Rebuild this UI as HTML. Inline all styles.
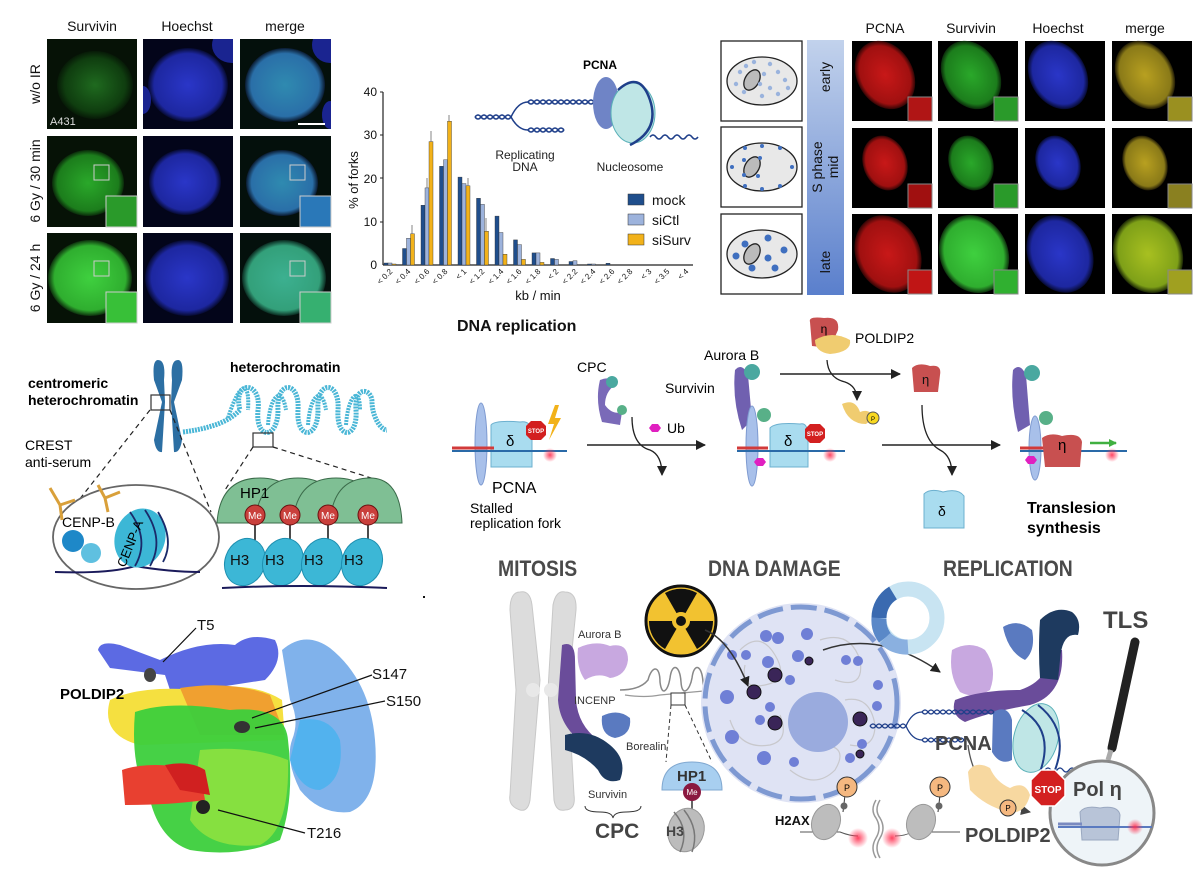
<!DOCTYPE html>
<html><head><meta charset="utf-8"><style>
html,body{margin:0;padding:0;background:#fff;}
svg{display:block;font-family:"Liberation Sans",Arial,sans-serif;}
</style></head><body>
<svg width="1200" height="871" viewBox="0 0 1200 871" xmlns="http://www.w3.org/2000/svg">
<defs>
<radialGradient id="gGd" cx="50%" cy="50%" r="50%"><stop offset="0" stop-color="#1f6a1f"/><stop offset=".8" stop-color="#0f3d0f"/><stop offset="1" stop-color="#071a07"/></radialGradient>
<radialGradient id="gG" cx="50%" cy="50%" r="50%"><stop offset="0" stop-color="#2aa82a"/><stop offset=".85" stop-color="#1c7d1c"/><stop offset="1" stop-color="#0a2a0a"/></radialGradient>
<radialGradient id="gGb" cx="50%" cy="50%" r="50%"><stop offset="0" stop-color="#3fd03f"/><stop offset=".85" stop-color="#2fae2f"/><stop offset="1" stop-color="#0d300d"/></radialGradient>
<radialGradient id="gB" cx="50%" cy="50%" r="50%"><stop offset="0" stop-color="#2a36c8"/><stop offset=".85" stop-color="#1d27a0"/><stop offset="1" stop-color="#060a30"/></radialGradient>
<radialGradient id="gBG" cx="50%" cy="50%" r="50%"><stop offset="0" stop-color="#2f8ab0"/><stop offset=".85" stop-color="#2a6fa8"/><stop offset="1" stop-color="#0a1a30"/></radialGradient>
<radialGradient id="gBG2" cx="50%" cy="50%" r="50%"><stop offset="0" stop-color="#3cb090"/><stop offset=".85" stop-color="#33a07a"/><stop offset="1" stop-color="#0a2a20"/></radialGradient>
<radialGradient id="gR" cx="50%" cy="50%" r="50%"><stop offset="0" stop-color="#c81818"/><stop offset=".85" stop-color="#a01010"/><stop offset="1" stop-color="#300505"/></radialGradient>
<radialGradient id="gM" cx="50%" cy="50%" r="50%"><stop offset="0" stop-color="#b8a020"/><stop offset=".85" stop-color="#8a7a18"/><stop offset="1" stop-color="#201a05"/></radialGradient>
<radialGradient id="gMy" cx="50%" cy="50%" r="50%"><stop offset="0" stop-color="#a8c020"/><stop offset=".85" stop-color="#7ea018"/><stop offset="1" stop-color="#1a2505"/></radialGradient>
<radialGradient id="glow" cx="50%" cy="50%" r="50%"><stop offset="0" stop-color="#ff3050" stop-opacity=".9"/><stop offset="1" stop-color="#ff3050" stop-opacity="0"/></radialGradient>
<linearGradient id="bar" x1="0" y1="0" x2="0" y2="1"><stop offset="0" stop-color="#c2d2ec"/><stop offset="1" stop-color="#5a7fcc"/></linearGradient>
<marker id="ah" markerUnits="userSpaceOnUse" markerWidth="10" markerHeight="10" refX="9" refY="5" orient="auto"><path d="M0,0 L10,5 L0,10 z" fill="#222"/></marker>
<marker id="ahg" markerUnits="userSpaceOnUse" markerWidth="10" markerHeight="10" refX="9" refY="5" orient="auto"><path d="M0,0 L10,5 L0,10 z" fill="#444"/></marker>
<marker id="ahgr" markerUnits="userSpaceOnUse" markerWidth="8" markerHeight="8" refX="7" refY="4" orient="auto"><path d="M0,0 L8,4 L0,8 z" fill="#40b040"/></marker>
<clipPath id="c1"><rect x="143" y="39" width="90" height="90"/></clipPath>
<clipPath id="c2"><rect x="240" y="39" width="91" height="90"/></clipPath>
</defs>

<!-- ============ TOP LEFT MICROSCOPY ============ -->
<g font-size="14" fill="#111" text-anchor="middle">
<text x="92" y="31">Survivin</text><text x="187" y="31">Hoechst</text><text x="285" y="31">merge</text>
<text transform="translate(40,84) rotate(-90)">w/o IR</text>
<text transform="translate(40,181) rotate(-90)">6 Gy / 30 min</text>
<text transform="translate(40,278) rotate(-90)">6 Gy / 24 h</text>
</g>
<g>
<rect x="47" y="39" width="90" height="90" fill="#061206"/>
<ellipse cx="95" cy="85" rx="38" ry="34" fill="url(#gGd)"/>
<text x="50" y="125" font-size="11" fill="#ddd">A431</text>
<rect x="143" y="39" width="90" height="90" fill="#03051a"/>
<g clip-path="url(#c1)">
<ellipse cx="188" cy="85" rx="40" ry="37" fill="url(#gB)"/>
<ellipse cx="232" cy="45" rx="20" ry="18" fill="#1a2490"/>
<ellipse cx="143" cy="100" rx="8" ry="14" fill="#1a2490"/>
</g>
<rect x="240" y="39" width="91" height="90" fill="#04100c"/>
<g clip-path="url(#c2)">
<ellipse cx="285" cy="85" rx="40" ry="37" fill="url(#gBG)"/>
<ellipse cx="330" cy="45" rx="18" ry="18" fill="#1a2490"/>
<ellipse cx="330" cy="115" rx="8" ry="14" fill="#1a2490"/>
</g>
<line x1="298" y1="124" x2="325" y2="124" stroke="#fff" stroke-width="2"/>

<rect x="47" y="136" width="90" height="91" fill="#061206"/>
<ellipse cx="88" cy="183" rx="36" ry="33" fill="url(#gG)"/>
<rect x="94" y="165" width="15" height="15" fill="none" stroke="#ccc"/>
<rect x="106" y="196" width="31" height="31" fill="#2a9a2a" stroke="#ccc"/>
<rect x="143" y="136" width="90" height="91" fill="#03051a"/>
<ellipse cx="185" cy="182" rx="36" ry="33" fill="url(#gB)"/>
<rect x="240" y="136" width="91" height="91" fill="#04100c"/>
<ellipse cx="282" cy="183" rx="36" ry="33" fill="url(#gBG)"/>
<rect x="290" y="165" width="15" height="15" fill="none" stroke="#ccc"/>
<rect x="300" y="196" width="31" height="31" fill="#2a78b8" stroke="#ccc"/>

<rect x="47" y="233" width="90" height="90" fill="#061206"/>
<ellipse cx="90" cy="278" rx="42" ry="38" fill="url(#gGb)"/>
<rect x="94" y="261" width="15" height="15" fill="none" stroke="#ccc"/>
<rect x="106" y="292" width="31" height="31" fill="#38c038" stroke="#ccc"/>
<rect x="143" y="233" width="90" height="90" fill="#03051a"/>
<ellipse cx="187" cy="278" rx="42" ry="38" fill="url(#gB)"/>
<rect x="240" y="233" width="91" height="90" fill="#04100c"/>
<ellipse cx="284" cy="278" rx="42" ry="38" fill="url(#gBG2)"/>
<rect x="290" y="261" width="15" height="15" fill="none" stroke="#ccc"/>
<rect x="300" y="292" width="31" height="31" fill="#36b070" stroke="#ccc"/>
</g>

<!-- ============ BAR CHART ============ -->
<g font-size="12" fill="#111">
<line x1="383" y1="92" x2="383" y2="265" stroke="#222" stroke-width="1.2"/>
<line x1="383" y1="265" x2="693" y2="265" stroke="#222" stroke-width="1.2"/>
<g text-anchor="end"><text x="377" y="96">40</text><text x="377" y="139">30</text><text x="377" y="183">20</text><text x="377" y="226">10</text><text x="377" y="269">0</text></g>
<g stroke="#222"><line x1="380" y1="92" x2="383" y2="92"/><line x1="380" y1="135" x2="383" y2="135"/><line x1="380" y1="178" x2="383" y2="178"/><line x1="380" y1="222" x2="383" y2="222"/></g>
<text transform="translate(358,180) rotate(-90)" text-anchor="middle" font-size="13">% of forks</text>
<text x="538" y="300" text-anchor="middle" font-size="13">kb / min</text>
<g font-size="8" text-anchor="end">
<text transform="translate(393,272) rotate(-45)">&lt; 0.2</text>
<text transform="translate(411,272) rotate(-45)">&lt; 0.4</text>
<text transform="translate(430,272) rotate(-45)">&lt; 0.6</text>
<text transform="translate(448,272) rotate(-45)">&lt; 0.8</text>
<text transform="translate(467,272) rotate(-45)">&lt; 1</text>
<text transform="translate(485,272) rotate(-45)">&lt; 1.2</text>
<text transform="translate(504,272) rotate(-45)">&lt; 1.4</text>
<text transform="translate(522,272) rotate(-45)">&lt; 1.6</text>
<text transform="translate(541,272) rotate(-45)">&lt; 1.8</text>
<text transform="translate(559,272) rotate(-45)">&lt; 2</text>
<text transform="translate(578,272) rotate(-45)">&lt; 2.2</text>
<text transform="translate(596,272) rotate(-45)">&lt; 2.4</text>
<text transform="translate(615,272) rotate(-45)">&lt; 2.6</text>
<text transform="translate(633,272) rotate(-45)">&lt; 2.8</text>
<text transform="translate(652,272) rotate(-45)">&lt; 3</text>
<text transform="translate(670,272) rotate(-45)">&lt; 3.5</text>
<text transform="translate(689,272) rotate(-45)">&lt; 4</text>
</g>
</g>
<g stroke="#333" stroke-width=".4">
<g fill="#1f4e8c">
<rect x="384" y="263" width="4" height="2"/><rect x="402.5" y="248.5" width="4" height="16.5"/><rect x="421" y="205.2" width="4" height="59.8"/><rect x="439.5" y="166.3" width="4" height="98.7"/><rect x="458" y="177.1" width="4" height="87.9"/><rect x="476.5" y="198.3" width="4" height="66.7"/><rect x="495" y="216.1" width="4" height="48.9"/><rect x="513.5" y="239.9" width="4" height="25.1"/><rect x="532" y="252.9" width="4" height="12.1"/><rect x="550.5" y="258.5" width="4" height="6.5"/><rect x="569" y="261.5" width="4" height="3.5"/><rect x="587.5" y="264" width="4" height="1"/><rect x="606" y="263.3" width="4" height="1.7"/>
</g>
<g fill="#9db3dc">
<rect x="388" y="263" width="4" height="2"/><rect x="406.5" y="238.2" width="4" height="26.8"/><rect x="425" y="187.9" width="4" height="77.1"/><rect x="443.5" y="159.8" width="4" height="105.2"/><rect x="462" y="183.6" width="4" height="81.4"/><rect x="480.5" y="204.4" width="4" height="60.6"/><rect x="499" y="232.5" width="4" height="32.5"/><rect x="517.5" y="244.6" width="4" height="20.4"/><rect x="536" y="252.9" width="4" height="12.1"/><rect x="554.5" y="259.4" width="4" height="5.6"/><rect x="573" y="260.7" width="4" height="4.3"/><rect x="591.5" y="264" width="4" height="1"/>
</g>
<g fill="#f2b21a">
<rect x="392" y="264" width="4" height="1"/><rect x="410.5" y="233.8" width="4" height="31.2"/><rect x="429" y="141.6" width="4" height="123.4"/><rect x="447.5" y="121.2" width="4" height="143.8"/><rect x="466" y="185.8" width="4" height="79.2"/><rect x="484.5" y="231.2" width="4" height="33.8"/><rect x="503" y="254.2" width="4" height="10.8"/><rect x="521.5" y="259.4" width="4" height="5.6"/><rect x="540" y="262.4" width="4" height="2.6"/>
</g>
</g>
<g stroke="#666" stroke-width=".8">
<line x1="412" y1="234" x2="412" y2="225"/><line x1="431" y1="142" x2="431" y2="131"/><line x1="449" y1="121" x2="449" y2="115"/><line x1="427" y1="188" x2="427" y2="178"/><line x1="468" y1="186" x2="468" y2="178"/><line x1="486" y1="231" x2="486" y2="218"/>
</g>
<g font-size="14" fill="#111">
<rect x="628" y="194" width="16" height="11" fill="#1f4e8c" stroke="#333" stroke-width=".5"/><text x="652" y="205">mock</text>
<rect x="628" y="214" width="16" height="11" fill="#9db3dc" stroke="#333" stroke-width=".5"/><text x="652" y="225">siCtl</text>
<rect x="628" y="234" width="16" height="11" fill="#f2b21a" stroke="#333" stroke-width=".5"/><text x="652" y="245">siSurv</text>
</g>

<!-- PCNA diagram -->
<g>
<text x="600" y="69" font-size="12" font-weight="bold" text-anchor="middle">PCNA</text>
<g stroke="#1f3f8a" stroke-width="1.5" fill="none">
<path d="M475,117 q3,-4 6,0 t6,0 t6,0 t6,0 t6,0 t6,0"/><path d="M475,117 q3,4 6,0 t6,0 t6,0 t6,0 t6,0 t6,0"/>
<path d="M511,117 Q518,102 528,102"/>
<path d="M511,117 Q518,130 528,130"/>
<path d="M528,102 q3,-4 6,0 t6,0 t6,0 t6,0 t6,0 t6,0 t6,0 t6,0 t6,0 t6,0 t6,0"/><path d="M528,102 q3,4 6,0 t6,0 t6,0 t6,0 t6,0 t6,0 t6,0 t6,0 t6,0 t6,0 t6,0"/>
<path d="M528,130 q3,-4 6,0 t6,0 t6,0 t6,0 t6,0 t6,0"/><path d="M528,130 q3,4 6,0 t6,0 t6,0 t6,0 t6,0 t6,0"/>
</g>
<ellipse cx="606" cy="103" rx="13" ry="26" fill="#6f84c6"/>
<ellipse cx="633" cy="113" rx="22" ry="30" fill="#bfe6e6" stroke="#5ab0b8"/>
<path d="M618,90 Q640,70 650,100 Q660,130 630,145" stroke="#1f3f8a" stroke-width="2.5" fill="none"/>
<path d="M650,137 q3,-4 6,0 t6,0 t6,0 t6,0 t6,0 t6,0 t6,0 t6,0" stroke="#1f3f8a" stroke-width="1.5" fill="none"/>
<g font-size="12" fill="#222" text-anchor="middle"><text x="525" y="159">Replicating</text><text x="525" y="171">DNA</text><text x="630" y="171">Nucleosome</text></g>
</g>

<!-- ============ TOP RIGHT ============ -->
<g stroke="#222" stroke-width="1.3" fill="#fff">
<rect x="721" y="41" width="81" height="80"/><rect x="721" y="127" width="81" height="80"/><rect x="721" y="214" width="81" height="80"/>
</g>
<g stroke="#222" stroke-width="1.3" fill="#e8e8e8">
<ellipse cx="762" cy="81" rx="35" ry="24"/><ellipse cx="762" cy="167" rx="35" ry="24"/><ellipse cx="762" cy="254" rx="35" ry="24"/>
<ellipse cx="752" cy="80" rx="7" ry="11" fill="#bbb" transform="rotate(30 752 80)"/><ellipse cx="752" cy="167" rx="7" ry="11" fill="#bbb" transform="rotate(30 752 167)"/><ellipse cx="752" cy="254" rx="7" ry="11" fill="#bbb" transform="rotate(30 752 254)"/>
</g>
<g fill="#9ab3dd">
<circle cx="740" cy="72" r="2.2"/><circle cx="746" cy="66" r="2.2"/><circle cx="770" cy="64" r="2.2"/><circle cx="778" cy="72" r="2.2"/><circle cx="785" cy="80" r="2.2"/><circle cx="770" cy="88" r="2.2"/><circle cx="778" cy="94" r="2.2"/><circle cx="762" cy="96" r="2.2"/><circle cx="744" cy="92" r="2.2"/><circle cx="736" cy="84" r="2.2"/><circle cx="764" cy="74" r="2.2"/><circle cx="788" cy="88" r="2.2"/><circle cx="754" cy="62" r="2.2"/><circle cx="760" cy="84" r="2.2"/>
</g>
<g fill="#3f6fbf">
<circle cx="732" cy="167" r="2"/><circle cx="792" cy="167" r="2"/><circle cx="745" cy="148" r="2"/><circle cx="762" cy="146" r="2"/><circle cx="780" cy="148" r="2"/><circle cx="745" cy="186" r="2"/><circle cx="762" cy="189" r="2"/><circle cx="780" cy="186" r="2"/><circle cx="744" cy="160" r="2"/><circle cx="760" cy="158" r="2"/><circle cx="744" cy="175" r="2"/><circle cx="758" cy="176" r="2"/>
<circle cx="745" cy="244" r="3.5"/><circle cx="768" cy="238" r="3.5"/><circle cx="784" cy="250" r="3.5"/><circle cx="768" cy="258" r="3.5"/><circle cx="736" cy="256" r="3.5"/><circle cx="752" cy="268" r="3.5"/><circle cx="775" cy="268" r="3.5"/>
</g>
<rect x="807" y="40" width="37" height="255" fill="url(#bar)"/>
<g font-size="14" fill="#111" text-anchor="middle">
<text transform="translate(830,77) rotate(-90)">early</text>
<text transform="translate(822,167) rotate(-90)">S phase</text>
<text transform="translate(838,167) rotate(-90)">mid</text>
<text transform="translate(830,262) rotate(-90)">late</text>
<text x="885" y="33">PCNA</text><text x="971" y="33">Survivin</text><text x="1058" y="33">Hoechst</text><text x="1145" y="33">merge</text>
</g>
<g>
<rect x="852" y="41" width="80" height="80" fill="#000"/><ellipse cx="885" cy="75" rx="28" ry="36" fill="url(#gR)" transform="rotate(-30 885 75)"/><rect x="908" y="97" width="24" height="24" fill="#b01515" stroke="#888"/>
<rect x="938" y="41" width="80" height="80" fill="#000"/><ellipse cx="971" cy="75" rx="28" ry="36" fill="url(#gG)" transform="rotate(-30 971 75)"/><rect x="994" y="97" width="24" height="24" fill="#2a9a2a" stroke="#888"/>
<rect x="1025" y="41" width="80" height="80" fill="#000"/><ellipse cx="1058" cy="75" rx="28" ry="36" fill="url(#gB)" transform="rotate(-30 1058 75)"/>
<rect x="1112" y="41" width="80" height="80" fill="#000"/><ellipse cx="1145" cy="75" rx="28" ry="36" fill="url(#gM)" transform="rotate(-30 1145 75)"/><rect x="1168" y="97" width="24" height="24" fill="#9a9020" stroke="#888"/>

<rect x="852" y="128" width="80" height="80" fill="#000"/><ellipse cx="885" cy="163" rx="22" ry="28" fill="url(#gR)" transform="rotate(-20 885 163)"/><rect x="908" y="184" width="24" height="24" fill="#a01010" stroke="#888"/>
<rect x="938" y="128" width="80" height="80" fill="#000"/><ellipse cx="971" cy="163" rx="22" ry="28" fill="url(#gG)" transform="rotate(-20 971 163)"/><rect x="994" y="184" width="24" height="24" fill="#2a9a2a" stroke="#888"/>
<rect x="1025" y="128" width="80" height="80" fill="#000"/><ellipse cx="1058" cy="163" rx="22" ry="28" fill="url(#gB)" transform="rotate(-20 1058 163)"/>
<rect x="1112" y="128" width="80" height="80" fill="#000"/><ellipse cx="1145" cy="163" rx="22" ry="28" fill="url(#gM)" transform="rotate(-20 1145 163)"/><rect x="1168" y="184" width="24" height="24" fill="#8a8020" stroke="#888"/>

<rect x="852" y="214" width="80" height="80" fill="#000"/><ellipse cx="888" cy="254" rx="32" ry="40" fill="url(#gR)" transform="rotate(-25 888 254)"/><rect x="908" y="270" width="24" height="24" fill="#c01515" stroke="#888"/>
<rect x="938" y="214" width="80" height="80" fill="#000"/><ellipse cx="974" cy="254" rx="34" ry="40" fill="url(#gGb)" transform="rotate(-25 974 254)"/><rect x="994" y="270" width="24" height="24" fill="#30b030" stroke="#888"/>
<rect x="1025" y="214" width="80" height="80" fill="#000"/><ellipse cx="1060" cy="254" rx="32" ry="40" fill="url(#gB)" transform="rotate(-25 1060 254)"/>
<rect x="1112" y="214" width="80" height="80" fill="#000"/><ellipse cx="1148" cy="254" rx="34" ry="40" fill="url(#gMy)" transform="rotate(-25 1148 254)"/><rect x="1168" y="270" width="24" height="24" fill="#a0a020" stroke="#888"/>
</g>

<text x="457" y="331" font-size="16" font-weight="bold" fill="#111">DNA replication</text>

<!-- ============ MIDDLE LEFT chromatin ============ -->
<g>
<text x="230" y="372" font-size="14" font-weight="bold">heterochromatin</text>
<text x="28" y="388" font-size="14" font-weight="bold">centromeric</text>
<text x="28" y="405" font-size="14" font-weight="bold">heterochromatin</text>
<text x="25" y="450" font-size="14">CREST</text><text x="25" y="467" font-size="14">anti-serum</text>
<path d="M158,360 Q152,360 154,380 L162,402 L154,440 Q156,453 162,452 L165,402 L164,380 Q166,360 158,360 Z" fill="#2c6fa3"/>
<path d="M178,360 Q184,360 182,380 L174,402 L182,440 Q180,453 174,452 L171,402 L172,380 Q170,360 178,360 Z" fill="#2c6fa3"/>
<rect x="151" y="395" width="19" height="15" fill="none" stroke="#333" stroke-width="1.2"/>
<path d="M183,432 Q200,430 215,425 Q230,420 240,410 C232,380 262,380 258,410 C255,440 278,440 278,410 C276,380 300,380 298,410 C296,440 318,440 318,410 C316,380 340,380 338,410 C336,440 358,440 356,410 C354,385 372,388 372,402 C372,415 380,430 387,430" stroke="#49b6d6" stroke-width="5" fill="none" stroke-dasharray="2,1"/>
<path d="M228,418 C240,380 250,380 248,410 M268,425 C270,395 282,385 286,410 M308,425 C310,395 322,385 326,410 M346,425 C348,395 360,385 360,410" stroke="#49b6d6" stroke-width="4" fill="none" stroke-dasharray="2,1"/>
<rect x="253" y="433" width="20" height="14" fill="none" stroke="#333" stroke-width="1.2"/>
<g stroke="#222" stroke-dasharray="5,4" stroke-width="1.2">
<line x1="150" y1="410" x2="75" y2="505"/><line x1="170" y1="410" x2="211" y2="512"/><line x1="253" y1="447" x2="225" y2="490"/><line x1="273" y1="447" x2="387" y2="483"/>
</g>
<ellipse cx="136" cy="537" rx="83" ry="52" fill="#fff" stroke="#666" stroke-width="1.8"/>
<g stroke="#d9a03a" stroke-width="3" fill="none">
<path d="M50,488 L60,505 L75,500 M60,505 L62,520"/><path d="M98,485 L105,498 L120,492 M105,498 L108,512"/>
</g>
<text x="62" y="527" font-size="14">CENP-B</text>
<circle cx="73" cy="541" r="11" fill="#1e88c8"/><circle cx="91" cy="553" r="10" fill="#5fc0e0"/>
<path d="M55,572 Q110,574 135,566 Q170,572 200,572" stroke="#1a1a5a" stroke-width="2" fill="none"/>
<ellipse cx="140" cy="538" rx="25" ry="30" fill="#3cb7d6" transform="rotate(20 140 538)"/>
<path d="M130,512 Q150,540 135,566 M145,510 Q165,540 150,566 M158,512 Q175,540 163,562" stroke="#1a2a6a" stroke-width="1.8" fill="none"/>
<text transform="translate(125,568) rotate(-68)" font-size="13">CENP-A</text>
<g fill="#7fbf94" stroke="#3b6b4a" stroke-width="1">
<path d="M217,523 Q220,478 260,478 Q300,478 303,523 Z"/><path d="M255,523 Q258,478 298,478 Q338,478 341,523 Z"/><path d="M293,523 Q296,478 336,478 Q376,478 379,523 Z"/><path d="M330,523 Q333,478 370,478 Q400,478 402,523 Z"/>
</g>
<text x="240" y="498" font-size="15">HP1</text>
<g stroke="#111" stroke-width="1.5"><line x1="255" y1="525" x2="255" y2="540"/><line x1="290" y1="525" x2="290" y2="540"/><line x1="328" y1="525" x2="328" y2="540"/><line x1="368" y1="525" x2="368" y2="540"/></g>
<g fill="#c9403c" stroke="#6a1010"><circle cx="255" cy="515" r="10"/><circle cx="290" cy="515" r="10"/><circle cx="328" cy="515" r="10"/><circle cx="368" cy="515" r="10"/></g>
<g fill="#fff" font-size="10" text-anchor="middle"><text x="255" y="519">Me</text><text x="290" y="519">Me</text><text x="328" y="519">Me</text><text x="368" y="519">Me</text></g>
<g fill="#3cb7d6" stroke="#1e8fb0">
<ellipse cx="245" cy="562" rx="20" ry="24" transform="rotate(20 245 562)"/><ellipse cx="283" cy="562" rx="20" ry="24" transform="rotate(20 283 562)"/><ellipse cx="322" cy="562" rx="20" ry="24" transform="rotate(20 322 562)"/><ellipse cx="362" cy="562" rx="20" ry="24" transform="rotate(20 362 562)"/>
</g>
<g font-size="15" fill="#111"><text x="230" y="565">H3</text><text x="265" y="565">H3</text><text x="304" y="565">H3</text><text x="344" y="565">H3</text></g>
<path d="M222,588 Q300,584 387,588" stroke="#1a1a5a" stroke-width="2" fill="none"/>
<rect x="423" y="596" width="2" height="2" fill="#111"/>
</g>

<!-- ============ MIDDLE RIGHT TLS pathway ============ -->
<g>
<ellipse cx="481" cy="444" rx="6" ry="41" fill="#a8c0ea" stroke="#7e9ad0"/>
<path d="M491,425 Q495,420 520,422 Q532,420 532,435 L532,467 L491,467 Z" fill="#a9dcef" stroke="#6cb0cf"/>
<line x1="452" y1="451" x2="567" y2="451" stroke="#2a6aa8" stroke-width="2"/>
<line x1="452" y1="448" x2="494" y2="448" stroke="#d23a3a" stroke-width="3"/>
<text x="506" y="446" font-size="15">δ</text>
<polygon points="531,421 541,421 546,426 546,435 541,440 531,440 526,435 526,426" fill="#d32020"/>
<text x="536" y="433" font-size="6" fill="#fff" text-anchor="middle" font-weight="bold">STOP</text>
<polygon points="555,405 548,424 554,424 549,440 561,418 555,418 559,405" fill="#f2b21a"/>
<circle cx="550" cy="455" r="7" fill="url(#glow)"/>
<text x="492" y="493" font-size="16">PCNA</text>
<text x="470" y="513" font-size="14">Stalled</text><text x="470" y="528" font-size="14">replication fork</text>
<text x="577" y="372" font-size="14">CPC</text>
<path d="M600,380 Q612,375 615,385 Q605,392 605,405 Q612,415 622,412 L620,425 L602,422 Q595,400 600,380 Z" fill="#7a6ab8"/>
<circle cx="612" cy="382" r="6" fill="#4aa8a0"/><circle cx="622" cy="410" r="5" fill="#58b088"/>
<line x1="587" y1="445" x2="705" y2="445" stroke="#222" stroke-width="1.5" marker-end="url(#ah)"/>
<path d="M632,417 Q632,445 650,450 Q662,455 662,475" stroke="#222" stroke-width="1.3" fill="none" marker-end="url(#ah)"/>
<polygon points="652,424 658,424 661,428 658,432 652,432 649,428" fill="#e020c0"/>
<text x="667" y="433" font-size="14">Ub</text>
<text x="704" y="360" font-size="14">Aurora B</text>
<text x="665" y="393" font-size="14">Survivin</text>
<path d="M735,370 Q742,362 748,375 L752,420 L742,430 Q732,400 735,370 Z" fill="#7060b0"/>
<circle cx="752" cy="372" r="8" fill="#4aa8a0"/><circle cx="764" cy="415" r="7" fill="#58b088"/>
<ellipse cx="752" cy="446" rx="6" ry="40" fill="#a8c0ea" stroke="#7e9ad0"/>
<path d="M770,428 Q775,422 800,424 Q808,422 808,437 L808,467 L770,467 Z" fill="#a9dcef" stroke="#6cb0cf"/>
<line x1="737" y1="451" x2="845" y2="451" stroke="#2a6aa8" stroke-width="2"/>
<line x1="737" y1="448" x2="768" y2="448" stroke="#d23a3a" stroke-width="3"/>
<text x="784" y="446" font-size="15">δ</text>
<polygon points="810,424 820,424 825,429 825,438 820,443 810,443 805,438 805,429" fill="#d32020"/>
<text x="815" y="436" font-size="6" fill="#fff" text-anchor="middle" font-weight="bold">STOP</text>
<polygon points="757,458 763,458 766,462 763,466 757,466 754,462" fill="#e020c0"/>
<circle cx="830" cy="455" r="7" fill="url(#glow)"/>
<path d="M810,322 Q808,316 824,318 Q840,316 838,330 L830,348 L812,346 Z" fill="#c85050"/>
<path d="M815,340 Q832,330 850,340 Q852,352 830,354 Q815,352 815,340 Z" fill="#f0cc70"/>
<text x="824" y="333" font-size="12" text-anchor="middle">η</text>
<text x="855" y="343" font-size="14">POLDIP2</text>
<line x1="780" y1="374" x2="900" y2="374" stroke="#222" stroke-width="1.5" marker-end="url(#ah)"/>
<path d="M827,360 Q828,378 845,382 Q857,386 857,400" stroke="#222" stroke-width="1.3" fill="none" marker-end="url(#ah)"/>
<path d="M842,404 Q855,398 860,412 Q870,408 874,418 L866,424 Q848,424 842,404 Z" fill="#f0cc70"/>
<circle cx="873" cy="418" r="6" fill="#f8d820" stroke="#555"/><text x="873" y="421" font-size="6" text-anchor="middle">P</text>
<path d="M912,368 Q918,362 930,366 Q942,364 940,375 L938,392 L914,392 Z" fill="#c85050"/>
<text x="922" y="384" font-size="13" fill="#111">η</text>
<line x1="882" y1="445" x2="1000" y2="445" stroke="#222" stroke-width="1.5" marker-end="url(#ah)"/>
<path d="M922,405 Q922,440 940,450 Q952,456 952,475" stroke="#222" stroke-width="1.3" fill="none" marker-end="url(#ah)"/>
<path d="M924,494 Q930,488 943,492 Q958,488 964,496 L964,528 L924,528 Z" fill="#a9dcef" stroke="#6cb0cf"/>
<text x="938" y="516" font-size="14">δ</text>
<path d="M1013,370 Q1020,362 1026,375 L1030,425 L1018,432 Q1010,400 1013,370 Z" fill="#7060b0"/>
<circle cx="1032" cy="373" r="8" fill="#4aa8a0"/><circle cx="1046" cy="418" r="7" fill="#58b088"/>
<ellipse cx="1035" cy="448" rx="6" ry="32" fill="#a8c0ea" stroke="#7e9ad0"/>
<line x1="1020" y1="451" x2="1127" y2="451" stroke="#2a6aa8" stroke-width="2"/>
<line x1="1020" y1="448" x2="1045" y2="448" stroke="#d23a3a" stroke-width="3"/>
<path d="M1042,438 Q1050,432 1062,436 Q1080,432 1082,442 L1080,467 L1045,467 Z" fill="#c85050"/>
<text x="1058" y="450" font-size="15">η</text>
<polygon points="1028,456 1034,456 1037,460 1034,464 1028,464 1025,460" fill="#e020c0"/>
<line x1="1090" y1="443" x2="1116" y2="443" stroke="#40b040" stroke-width="2.5" marker-end="url(#ahgr)"/>
<circle cx="1112" cy="455" r="7" fill="url(#glow)"/>
<text x="1027" y="513" font-size="16" font-weight="bold">Translesion</text>
<text x="1027" y="533" font-size="16" font-weight="bold">synthesis</text>
</g>

<!-- ============ BOTTOM LEFT PROTEIN ============ -->
<g>
<path d="M98,650 Q100,640 120,645 L160,660 Q200,640 235,645 Q250,632 275,640 Q285,660 265,680 L200,690 L190,710 L175,705 L165,675 L110,668 Z" fill="#4a5ae0" opacity=".9"/>
<path d="M282,650 Q305,630 330,648 Q370,680 375,740 Q380,800 350,812 Q320,815 300,790 Q285,760 292,740 Q300,720 290,700 Z" fill="#6aa5e8" opacity=".85"/>
<path d="M300,720 Q330,715 340,740 Q345,780 320,790 Q300,790 290,760 Z" fill="#52b2ee"/>
<path d="M110,700 Q140,685 200,690 Q250,680 282,700 L285,740 L140,745 Q100,735 110,700 Z" fill="#f5e040"/>
<path d="M180,688 Q230,680 270,695 L285,735 L200,735 Z" fill="#f0a030"/>
<path d="M135,712 Q170,700 230,710 Q285,705 288,740 Q295,800 280,840 Q240,858 190,850 Q160,840 150,800 Q130,770 135,712 Z" fill="#3ccf3c" opacity=".95"/>
<path d="M200,750 Q250,745 288,760 Q290,830 260,845 Q210,850 190,820 Z" fill="#86e040"/>
<path d="M122,770 Q150,760 200,770 L205,800 Q170,805 125,805 Z" fill="#e84030"/>
<path d="M165,765 Q190,760 205,770 L210,795 L180,790 Z" fill="#d02020"/>
<ellipse cx="150" cy="675" rx="6" ry="7" fill="#444"/><ellipse cx="242" cy="727" rx="8" ry="6" fill="#333"/><ellipse cx="203" cy="807" rx="7" ry="7" fill="#222"/>
<g stroke="#111" stroke-width="1.2"><line x1="163" y1="662" x2="196" y2="628"/><line x1="252" y1="718" x2="372" y2="675"/><line x1="255" y1="728" x2="385" y2="701"/><line x1="218" y1="810" x2="305" y2="833"/></g>
<g font-size="15" fill="#111"><text x="197" y="630">T5</text><text x="372" y="679">S147</text><text x="386" y="706">S150</text><text x="307" y="838">T216</text></g>
<text x="60" y="699" font-size="15" font-weight="bold">POLDIP2</text>
</g>

<!-- ============ BOTTOM RIGHT BIG ILLUSTRATION ============ -->
<g>
<g font-size="22" font-weight="bold" fill="#4a4a4a">
<text x="498" y="576" transform="translate(498,0) scale(0.88,1) translate(-498,0)">MITOSIS</text>
<text x="708" y="576" transform="translate(708,0) scale(0.88,1) translate(-708,0)">DNA DAMAGE</text>
<text x="943" y="576" transform="translate(943,0) scale(0.88,1) translate(-943,0)">REPLICATION</text>
</g>
<path d="M520,592 Q530,590 532,605 L540,680 L530,800 Q528,812 520,810 Q508,806 510,795 L516,690 L510,610 Q510,592 520,592 Z" fill="#dcdcdc" stroke="#c8c8c8"/>
<path d="M565,592 Q577,592 576,610 L568,690 L574,795 Q576,810 565,810 Q556,812 554,800 L548,690 L553,605 Q556,590 565,592 Z" fill="#dcdcdc" stroke="#c8c8c8"/>
<circle cx="533" cy="690" r="7" fill="#e8e8e8"/><circle cx="551" cy="690" r="7" fill="#e8e8e8"/>
<path d="M578,648 Q595,640 610,646 Q628,642 628,660 Q626,676 610,678 Q598,672 585,680 Q576,668 578,648 Z" fill="#c8a8e0"/>
<path d="M562,645 Q575,640 575,660 L576,700 Q578,725 598,740 L590,748 Q560,730 558,700 Z" fill="#6a4c9a"/>
<path d="M602,716 Q618,708 630,718 Q632,735 615,738 Q600,735 602,716 Z" fill="#5a7ac0"/>
<path d="M565,735 Q590,728 610,745 Q628,760 620,780 Q605,785 598,770 Q585,755 565,750 Z" fill="#1e3a5f"/>
<g font-size="11" fill="#333"><text x="578" y="638">Aurora B</text><text x="574" y="704">INCENP</text><text x="626" y="750">Borealin</text><text x="588" y="798">Survivin</text></g>
<path d="M585,806 Q585,812 600,812 Q612,812 613,818 Q614,812 626,812 Q641,812 641,806" stroke="#333" fill="none"/>
<text x="595" y="838" font-size="21" font-weight="bold" fill="#444">CPC</text>
<path d="M620,690 Q640,690 648,680 C652,665 660,665 660,682 C662,698 668,690 670,678 C672,662 680,665 681,682 C682,698 690,690 692,678 C694,662 702,665 703,682 C704,698 712,690 714,676" stroke="#888" stroke-width="1.5" fill="none"/>
<path d="M625,695 Q645,698 660,695 L715,690" stroke="#999" stroke-width="1.2" fill="none"/>
<rect x="671" y="693" width="14" height="12" fill="#fff" stroke="#333"/>
<g stroke="#333" stroke-dasharray="4,3"><line x1="671" y1="705" x2="666" y2="762"/><line x1="685" y1="705" x2="712" y2="762"/></g>
<path d="M662,790 Q662,762 692,762 Q722,762 722,790 Z" fill="#a8cff0" stroke="#80a8d0"/>
<text x="677" y="781" font-size="15" font-weight="bold" fill="#333">HP1</text>
<line x1="692" y1="800" x2="692" y2="815" stroke="#333" stroke-width="1.5"/>
<circle cx="692" cy="792" r="9" fill="#8a1840"/><text x="692" y="795" font-size="8" fill="#fff" text-anchor="middle">Me</text>
<ellipse cx="686" cy="830" rx="18" ry="22" fill="#bcbcbc" stroke="#999" transform="rotate(15 686 830)"/>
<path d="M674,812 Q690,830 680,852 M684,810 Q700,830 692,852" stroke="#777" stroke-width="1.5" fill="none"/>
<text x="666" y="836" font-size="14" font-weight="bold" fill="#444">H3</text>
<circle cx="681" cy="621" r="35" fill="#f2c230" stroke="#111" stroke-width="3"/>
<g fill="#111">
<path d="M681,621 L665,593 A32,32 0 0 1 697,593 Z"/>
<path d="M681,621 L713,621 A32,32 0 0 1 697,649 Z"/>
<path d="M681,621 L665,649 A32,32 0 0 1 649,621 Z"/>
</g>
<circle cx="681" cy="621" r="9" fill="#f2c230"/><circle cx="681" cy="621" r="5" fill="#111"/>
<circle cx="801" cy="703" r="100" fill="#dfe3f4"/>
<circle cx="801" cy="703" r="96" fill="none" stroke="#7e99d2" stroke-width="5" stroke-dasharray="26,8"/>
<g stroke="#c8c8cc" stroke-width="1.2" fill="none">
<path d="M740,650 q20,-20 35,5 q15,25 -10,30 q-25,5 -20,-20 M820,640 q30,-10 40,20 q5,30 -25,20 M730,720 q10,30 40,25 q20,-5 10,-30 M790,770 q25,20 45,0 q15,-25 -15,-25 M845,700 q25,-5 30,25 q0,25 -25,20"/>
</g>
<circle cx="818" cy="722" r="30" fill="#9aabde"/>
<g fill="#6f7fd6">
<circle cx="766" cy="636" r="6"/><circle cx="778" cy="638" r="6"/><circle cx="807" cy="634" r="6"/><circle cx="798" cy="656" r="6"/><circle cx="746" cy="655" r="5"/><circle cx="768" cy="662" r="6"/><circle cx="727" cy="697" r="7"/><circle cx="770" cy="707" r="5"/><circle cx="760" cy="720" r="5"/><circle cx="732" cy="737" r="7"/><circle cx="764" cy="758" r="7"/><circle cx="794" cy="762" r="5"/><circle cx="846" cy="660" r="5"/><circle cx="858" cy="661" r="5"/><circle cx="878" cy="685" r="5"/><circle cx="877" cy="706" r="5"/><circle cx="862" cy="744" r="5"/><circle cx="850" cy="758" r="5"/><circle cx="732" cy="655" r="5"/><circle cx="790" cy="680" r="5"/>
</g>
<g fill="#3a2558" stroke="#111">
<circle cx="775" cy="675" r="7"/><circle cx="754" cy="692" r="7"/><circle cx="775" cy="723" r="7"/><circle cx="809" cy="661" r="4"/><circle cx="860" cy="719" r="7"/><circle cx="860" cy="754" r="4"/>
</g>
<path d="M705,630 Q730,640 748,686" stroke="#333" stroke-width="1.5" fill="none" marker-end="url(#ah)"/>
<path d="M823,650 Q880,630 940,672" stroke="#333" stroke-width="1.5" fill="none" marker-end="url(#ah)"/>
<circle cx="908" cy="618" r="29" fill="none" stroke="#c8e4f2" stroke-width="15"/>
<path d="M879,618 A29,29 0 0 1 893,593" stroke="#3a6ab0" stroke-width="15" fill="none"/>
<path d="M885,638 A29,29 0 0 1 879,618" stroke="#5a88c8" stroke-width="15" fill="none"/>
<path d="M908,647 A29,29 0 0 1 885,638" stroke="#8ab0e0" stroke-width="15" fill="none"/>
<text x="775" y="825" font-size="13" font-weight="bold" fill="#111">H2AX</text>
<path d="M800,832 L840,832 Q850,836 858,836 M895,836 Q905,836 912,832 L960,832" stroke="#555" fill="none"/>
<ellipse cx="826" cy="822" rx="14" ry="18" fill="#bdbdbd" stroke="#999" transform="rotate(20 826 822)"/>
<ellipse cx="921" cy="822" rx="14" ry="18" fill="#bdbdbd" stroke="#999" transform="rotate(20 921 822)"/>
<line x1="845" y1="795" x2="843" y2="812" stroke="#333"/><line x1="940" y1="795" x2="938" y2="812" stroke="#333"/>
<circle cx="844" cy="806" r="3.5" fill="#666"/><circle cx="939" cy="806" r="3.5" fill="#666"/>
<circle cx="847" cy="787" r="10" fill="#f5b880" stroke="#333"/><text x="847" y="791" font-size="9" text-anchor="middle">P</text>
<circle cx="940" cy="787" r="10" fill="#f5b880" stroke="#333"/><text x="940" y="791" font-size="9" text-anchor="middle">P</text>
<circle cx="858" cy="838" r="10" fill="url(#glow)"/><circle cx="892" cy="838" r="10" fill="url(#glow)"/>
<path d="M876,800 q-6,10 0,18 q6,10 0,20 q-6,10 0,20 M880,800 q-6,10 0,18 q6,10 0,20 q-6,10 0,20" stroke="#999" stroke-width="1.5" fill="none"/>
<path d="M952,650 Q970,640 985,650 Q998,668 990,690 Q975,700 960,692 Q948,675 952,650 Z" fill="#c8a8e0"/>
<path d="M955,700 Q980,690 1020,690 Q1050,680 1050,650 L1062,650 Q1065,695 1030,705 Q990,712 965,722 Q950,715 955,700 Z" fill="#6a4c9a"/>
<path d="M1003,627 Q1018,618 1032,630 Q1036,650 1025,660 Q1008,652 1003,627 Z" fill="#5a7ac0"/>
<path d="M1040,620 Q1055,605 1072,612 Q1082,620 1078,635 Q1062,632 1060,660 L1058,680 L1040,678 Q1038,650 1040,620 Z" fill="#1e3a5f"/>
<path d="M993,712 Q1008,704 1012,720 L1012,760 Q1000,766 992,752 Z" fill="#5a7ac0"/>
<ellipse cx="1036" cy="738" rx="22" ry="35" fill="#bfe6e6" stroke="#5ab0b8" transform="rotate(15 1036 738)"/>
<path d="M1022,710 Q1055,730 1040,772 M1038,705 Q1070,730 1055,770" stroke="#1f3f8a" stroke-width="2" fill="none"/>
<g stroke="#1f3f8a" stroke-width="1.3" fill="none">
<path d="M870,726 q3,-4 6,0 t6,0 t6,0 t6,0 t6,0 t6,0"/><path d="M870,726 q3,4 6,0 t6,0 t6,0 t6,0 t6,0 t6,0"/>
<path d="M906,726 Q912,712 922,712"/><path d="M906,726 Q912,740 922,740"/>
<path d="M922,712 q3,-4 6,0 t6,0 t6,0 t6,0 t6,0 t6,0 t6,0 t6,0 t6,0 t6,0 t6,0 t6,0"/><path d="M922,712 q3,4 6,0 t6,0 t6,0 t6,0 t6,0 t6,0 t6,0 t6,0 t6,0 t6,0 t6,0 t6,0"/>
<path d="M922,740 q3,-4 6,0 t6,0 t6,0 t6,0 t6,0 t6,0 t6,0"/><path d="M922,740 q3,4 6,0 t6,0 t6,0 t6,0 t6,0 t6,0 t6,0"/>
<path d="M1045,770 q3,-4 6,0 t6,0 t6,0 t6,0 t6,0 t6,0 t6,0 t6,0 t6,0"/>
</g>
<text x="935" y="750" font-size="20" font-weight="bold" fill="#444">PCNA</text>
<path d="M968,745 Q975,800 1030,812" stroke="#555" stroke-width="1.3" fill="none" marker-end="url(#ahg)"/>
<path d="M968,772 Q975,760 990,768 Q996,782 1010,788 Q1025,780 1030,795 Q1025,815 1008,812 Q985,806 970,790 Z" fill="#f7d8a0"/>
<circle cx="1008" cy="808" r="8" fill="#f5b880" stroke="#333"/><text x="1008" y="811" font-size="8" text-anchor="middle">P</text>
<text x="965" y="842" font-size="20" font-weight="bold" fill="#444">POLDIP2</text>
<text x="1103" y="628" font-size="24" font-weight="bold" fill="#444">TLS</text>
<line x1="1135" y1="642" x2="1112" y2="748" stroke="#222" stroke-width="9" stroke-linecap="round"/>
<line x1="1111" y1="750" x2="1108" y2="760" stroke="#aaa" stroke-width="5"/>
<circle cx="1102" cy="813" r="52" fill="#eef4f8" stroke="#888" stroke-width="3"/>
<polygon points="1041,770 1055,770 1065,780 1065,796 1055,806 1041,806 1031,796 1031,780" fill="#d32020" stroke="#fff" stroke-width="1.5"/>
<text x="1048" y="793" font-size="10" fill="#fff" text-anchor="middle" font-weight="bold">STOP</text>
<text x="1073" y="796" font-size="20" font-weight="bold" fill="#444">Pol η</text>
<path d="M1080,812 Q1085,805 1100,808 Q1118,805 1120,815 L1118,840 L1082,840 Z" fill="#b8c4d8" stroke="#9aa8c0"/>
<line x1="1058" y1="827" x2="1152" y2="827" stroke="#5a7ac0" stroke-width="2"/>
<line x1="1058" y1="824" x2="1082" y2="824" stroke="#7a8ac0" stroke-width="3"/>
<circle cx="1135" cy="827" r="8" fill="url(#glow)"/>
</g>
</svg>
</body></html>
